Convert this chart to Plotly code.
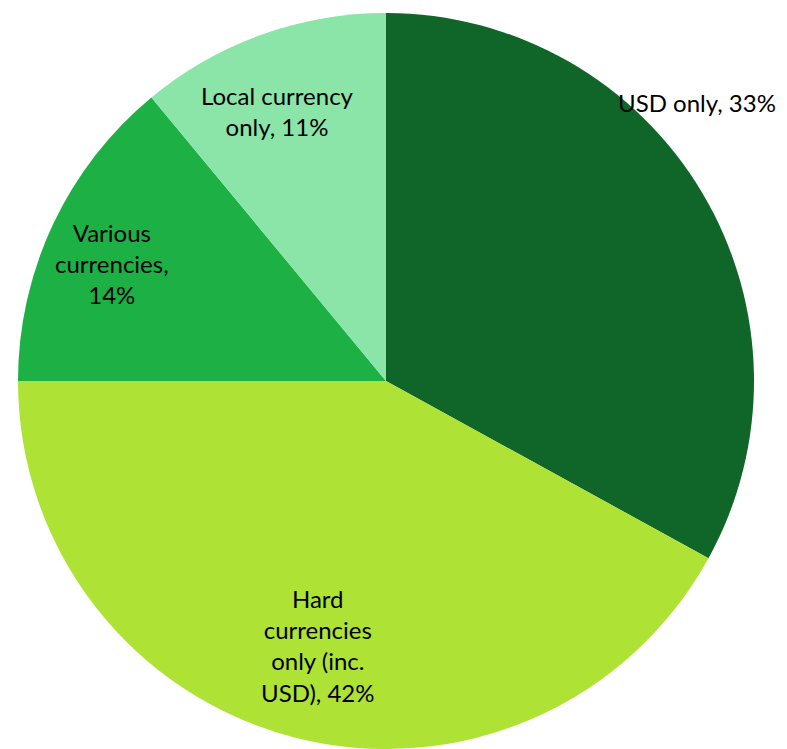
import plotly.graph_objects as go

categories = ["USD only", "Hard currencies only (inc. USD)", "Various currencies", "Local currency only"]
values = [33, 42, 14, 11]
colors = ["#0F6628", "#AEE335", "#1DB045", "#8BE4A8"]
label_texts = ["USD only, 33%", "Hard<br>currencies<br>only (inc.<br>USD), 42%",
               "Various<br>currencies,<br>14%", "Local currency<br>only, 11%"]

OFF = 8  # page body margin
W, H = 787 - OFF, 749 - OFF  # keep the figure inside the window
fig = go.Figure(go.Pie(
    labels=categories, values=values, sort=False, direction="clockwise", rotation=0,
    marker=dict(colors=colors, line=dict(width=0)),
    textinfo="none", hoverinfo="label+percent",
    domain=dict(x=[(18 - OFF) / W, (754 - OFF) / W], y=[0, (749 - 13) / H]),
    showlegend=False,
))

# label positions (screen pixel anchors)
pos = [(778, 103, "right"), (318, 645, "center"), (112, 263, "center"), (277, 111, "center")]
font = dict(family="Lato, Carlito, sans-serif", size=24, color="#000000")
for t, (px, py, anc) in zip(label_texts, pos):
    fig.add_annotation(x=(px - OFF) / W, y=1 - (py - OFF) / H, xref="paper", yref="paper", text=t,
                       showarrow=False, xanchor=anc, yanchor="middle", align="center", font=font)

fig.update_layout(width=W, height=H, margin=dict(l=0, r=0, t=0, b=0),
                  paper_bgcolor="white", plot_bgcolor="white")
fig.write_html("out.html", post_script="document.body.style.overflow='hidden';")
